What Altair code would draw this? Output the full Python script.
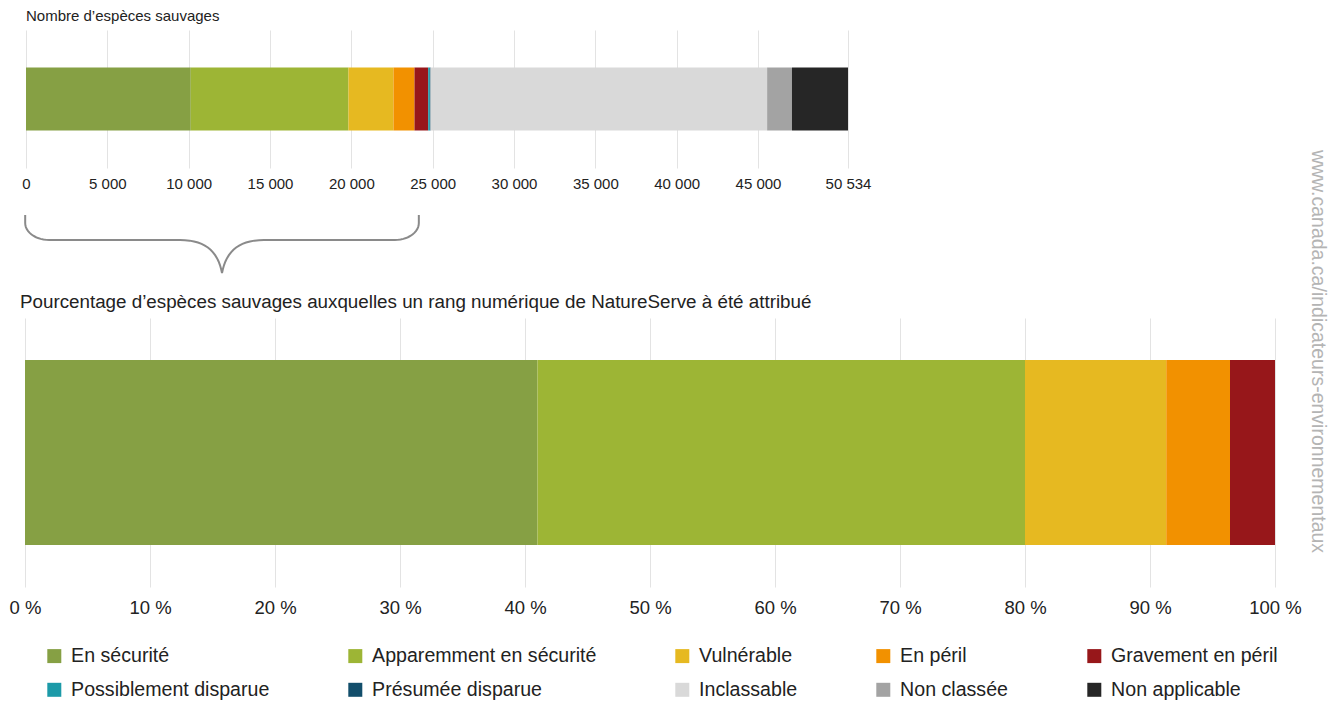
import altair as alt
import pandas as pd
import numpy as np

# ---------------- data ----------------
categories = ["En sécurité", "Apparemment en sécurité", "Vulnérable", "En péril",
              "Gravement en péril", "Possiblement disparue", "Présumée disparue",
              "Inclassable", "Non classée", "Non applicable"]
colors = ["#86a044", "#9db535", "#e6b921", "#f29100", "#97171a",
          "#1c9aa8", "#124e6b", "#d9d9d9", "#a3a3a3", "#262626"]
counts = [10130, 9694, 2768, 1291, 843, 105, 40, 20691, 1526, 3446]   # total 50 534

ranked_categories = categories[:5]
ranked_pct = [41.0, 39.0, 11.3, 5.1, 3.6]

count_ticks = [0, 5000, 10000, 15000, 20000, 25000, 30000, 35000, 40000, 45000, 50534]
pct_ticks = [0, 10, 20, 30, 40, 50, 60, 70, 80, 90, 100]

brace_span = [-50, 24150]          # extent of the brace, in numbers of species

top_title = "Nombre d’espèces sauvages"
bottom_title = ("Pourcentage d’espèces sauvages auxquelles un rang numérique "
                "de NatureServe à été attribué")
watermark = "www.canada.ca/indicateurs-environnementaux"

FONT = "Liberation Sans"
TXT = "#222222"
GRID = "#e3e3e3"

total = sum(counts)
TOP_W = 827
TOP_RANGE = [1, 823]
BOT_W = 1250

# ---------------- tables ----------------
top_df = pd.DataFrame({"cat": categories, "val": counts, "idx": range(len(categories)),
                       "row": "a"})
bot_df = pd.DataFrame({"cat": ranked_categories, "val": ranked_pct,
                       "idx": range(len(ranked_categories)), "row": "a"})

legend = alt.Legend(title=None, orient="none", legendX=19.5, legendY=616, columns=5,
                    direction="horizontal", symbolType="square", symbolSize=196,
                    symbolStrokeWidth=0, labelFont=FONT, labelFontSize=19.6,
                    labelColor=TXT, columnPadding=76, rowPadding=13, labelOffset=7,
                    labelLimit=400)
color = alt.Color("cat:N", scale=alt.Scale(domain=categories, range=colors), legend=legend)

# ---------------- top chart: counts ----------------
top_bars = alt.Chart(top_df).mark_bar(size=63).encode(
    x=alt.X("sum(val):Q", stack="zero",
            scale=alt.Scale(domain=[0, total], range=TOP_RANGE, nice=False, zero=False),
            axis=alt.Axis(title=None, values=count_ticks, domain=False, ticks=False,
                          grid=True, gridColor=GRID, labelFont=FONT, labelFontSize=15,
                          labelColor=TXT, labelPadding=8, labelFlush=False,
                          labelExpr="replace(format(datum.value, ','), ',', ' ')")),
    y=alt.Y("row:N", axis=None),
    color=color,
    order=alt.Order("idx:Q", sort="ascending"),
)
ttitle = alt.Chart(pd.DataFrame({"t": [top_title]})).mark_text(
    align="left", baseline="middle", font=FONT, fontSize=15, color=TXT).encode(
    text="t:N", x=alt.value(1), y=alt.value(-14))

top = alt.layer(top_bars, ttitle).properties(width=TOP_W, height=138)

# ---------------- brace ----------------
k = total / (TOP_RANGE[1] - TOP_RANGE[0])      # species per pixel on the top scale
w_px = (brace_span[1] - brace_span[0]) / k


def brace_path(w):
    pts = [(0.0, 0.0)]
    rx, y0, ybar = 24.0, 8.0, 25.0
    for th in np.linspace(0, np.pi / 2, 14):
        pts.append((rx - rx * np.cos(th), y0 + (ybar - y0) * np.sin(th)))
    p0 = np.array([w / 2 - 42, ybar]); p1 = np.array([w / 2 - 16, ybar])
    p2 = np.array([w / 2 - 4, ybar + 12]); p3 = np.array([w / 2, 58.0])
    for t in np.linspace(0, 1, 16):
        p = ((1 - t) ** 3) * p0 + 3 * ((1 - t) ** 2) * t * p1 + 3 * (1 - t) * t * t * p2 + t ** 3 * p3
        pts.append((p[0], p[1]))
    right = [(w - x, y) for (x, y) in reversed(pts[:-1])]
    return pts + right


bp = brace_path(w_px)
brace_df = pd.DataFrame({"bx": [brace_span[0] + x * k for x, _ in bp],
                         "by": [2 + y for _, y in bp],
                         "i": range(len(bp))})

brace = alt.Chart(brace_df).mark_line(color="#8a8a8a", strokeWidth=2).encode(
    x=alt.X("bx:Q", scale=alt.Scale(domain=[0, total], range=TOP_RANGE, nice=False,
                                    zero=False), axis=None),
    y=alt.Y("by:Q", scale=alt.Scale(domain=[0, 60], reverse=True, nice=False), axis=None),
    order="i:Q",
).properties(width=TOP_W, height=60)

# ---------------- bottom chart: percentages ----------------
bars = alt.Chart(bot_df).mark_bar(size=185).encode(
    x=alt.X("sum(val):Q", stack="zero", scale=alt.Scale(domain=[0, 100], nice=False),
            axis=alt.Axis(title=None, values=pct_ticks, domain=False, ticks=False,
                          grid=True, gridColor=GRID, labelFont=FONT, labelFontSize=18.5,
                          labelColor=TXT, labelPadding=11, labelFlush=False,
                          labelExpr="datum.value + ' %'")),
    y=alt.Y("row:N", axis=None),
    color=color,
    order=alt.Order("idx:Q", sort="ascending"),
)

btitle = alt.Chart(pd.DataFrame({"t": [bottom_title]})).mark_text(
    align="left", baseline="middle", font=FONT, fontSize=18.8, color=TXT).encode(
    text="t:N", x=alt.value(-5), y=alt.value(-16))

wm = alt.Chart(pd.DataFrame({"t": [watermark]})).mark_text(
    angle=90, align="center", baseline="middle", font=FONT, fontSize=19.5,
    color="#b4b4b4").encode(
    text="t:N", x=alt.value(1293), y=alt.value(33.5))

bottom = alt.layer(bars, btitle, wm).properties(width=BOT_W, height=269)

chart = alt.vconcat(top, brace, bottom, spacing=45, bounds="flush").resolve_scale(
    x="independent", color="shared"
).properties(padding={"left": 1, "top": 1, "right": 0, "bottom": 0}).configure(
    background="white").configure_view(stroke="transparent", strokeWidth=0)

chart.save("out.html", embed_options={"renderer": "svg", "actions": False})
